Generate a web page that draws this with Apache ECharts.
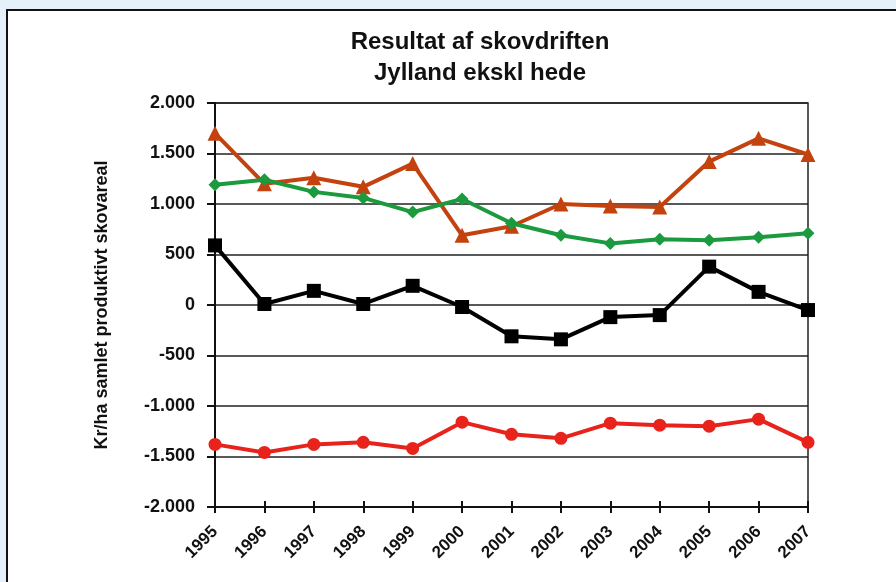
<!DOCTYPE html>
<html>
<head>
<meta charset="utf-8">
<script src="https://cdn.jsdelivr.net/npm/echarts@6/dist/echarts.min.js"></script>
<style>
  html, body { margin: 0; padding: 0; width: 896px; height: 582px; overflow: hidden; background: #e6f0fa; }
  #frame { position: absolute; left: 6px; top: 9px; width: 1000px; height: 700px; background: #ffffff; border: 2px solid #111; }
  #chart { position: absolute; left: 0; top: 0; width: 896px; height: 582px; }
</style>
</head>
<body>
<div id="frame"></div>
<div id="chart"></div>
<script>
const years = ['1995','1996','1997','1998','1999','2000','2001','2002','2003','2004','2005','2006','2007'];
const yTicks = [-2000, -1500, -1000, -500, 0, 500, 1000, 1500, 2000];
const titleLines = ['Resultat af skovdriften', 'Jylland ekskl hede'];
const yAxisName = 'Kr/ha samlet produktivt skovareal';

const orangeValues = [1700, 1200, 1260, 1170, 1400, 690, 780, 1000, 980, 970, 1420, 1650, 1490];
const greenValues  = [1190, 1240, 1120, 1060, 920, 1050, 810, 690, 610, 650, 640, 670, 710];
const blackValues  = [590, 10, 140, 10, 190, -20, -310, -340, -120, -100, 380, 130, -50];
const redValues    = [-1380, -1460, -1380, -1360, -1420, -1160, -1280, -1320, -1170, -1190, -1200, -1130, -1360];

const chart = echarts.init(document.getElementById('chart'), null, { renderer: 'canvas' });

function fmt(v) {
  const s = Math.abs(v).toString();
  const t = s.length > 3 ? s.slice(0, s.length - 3) + '.' + s.slice(s.length - 3) : s;
  return (v < 0 ? '-' : '') + t;
}

const FONT = 'Liberation Sans, Arial, sans-serif';

function lineSeries(name, data, color, symbol, size) {
  return {
    name: name, type: 'line', data: data,
    symbol: symbol, symbolSize: size,
    lineStyle: { color: color, width: 4 },
    itemStyle: { color: color },
    animation: false, z: 3
  };
}

chart.setOption({
  backgroundColor: 'transparent',
  animation: false,
  title: {
    text: titleLines.join('\n'),
    left: 475, top: 22, textAlign: 'center',
    textStyle: { fontFamily: FONT, fontWeight: 'bold', fontSize: 24, lineHeight: 31, color: '#111' }
  },
  grid: { left: 215, right: 88, top: 103, bottom: 75, show: true, borderColor: '#222', borderWidth: 1.5, backgroundColor: 'transparent' },
  xAxis: [{
    type: 'category', data: years, boundaryGap: false,
    axisLine: { show: true, onZero: false, lineStyle: { color: '#111', width: 2 } },
    axisTick: { show: true, alignWithLabel: true, length: 6, inside: false, lineStyle: { color: '#111', width: 2 } },
    axisLabel: { rotate: 45, margin: 22, interval: 0, fontFamily: FONT, fontWeight: 'bold', fontSize: 17, color: '#111' },
    splitLine: { show: false }
  }, {
    type: 'category', data: years, boundaryGap: false, position: 'bottom',
    axisLine: { show: false, onZero: false },
    axisTick: { show: true, length: 6, inside: true, lineStyle: { color: '#111', width: 2 } },
    axisLabel: { show: false },
    splitLine: { show: false }
  }],
  yAxis: {
    type: 'value', min: yTicks[0], max: yTicks[yTicks.length - 1], interval: 500,
    name: yAxisName, nameLocation: 'middle', nameGap: 104,
    nameTextStyle: { fontFamily: FONT, fontWeight: 'bold', fontSize: 18, color: '#111' },
    axisLine: { show: true, lineStyle: { color: '#111', width: 2 } },
    axisTick: { show: true, length: 8, lineStyle: { color: '#111', width: 2 } },
    axisLabel: { margin: 20, formatter: fmt, fontFamily: FONT, fontWeight: 'bold', fontSize: 18, color: '#111' },
    splitLine: { show: true, lineStyle: { color: '#222', width: 1.5 } }
  },
  series: [
    lineSeries('Orange', orangeValues, '#c4420e', 'triangle', 15),
    lineSeries('Grøn', greenValues, '#1b9a3e', 'diamond', 13),
    lineSeries('Sort', blackValues, '#000000', 'rect', 14),
    lineSeries('Rød', redValues, '#e8231b', 'circle', 13)
  ]
});
</script>
</body>
</html>
